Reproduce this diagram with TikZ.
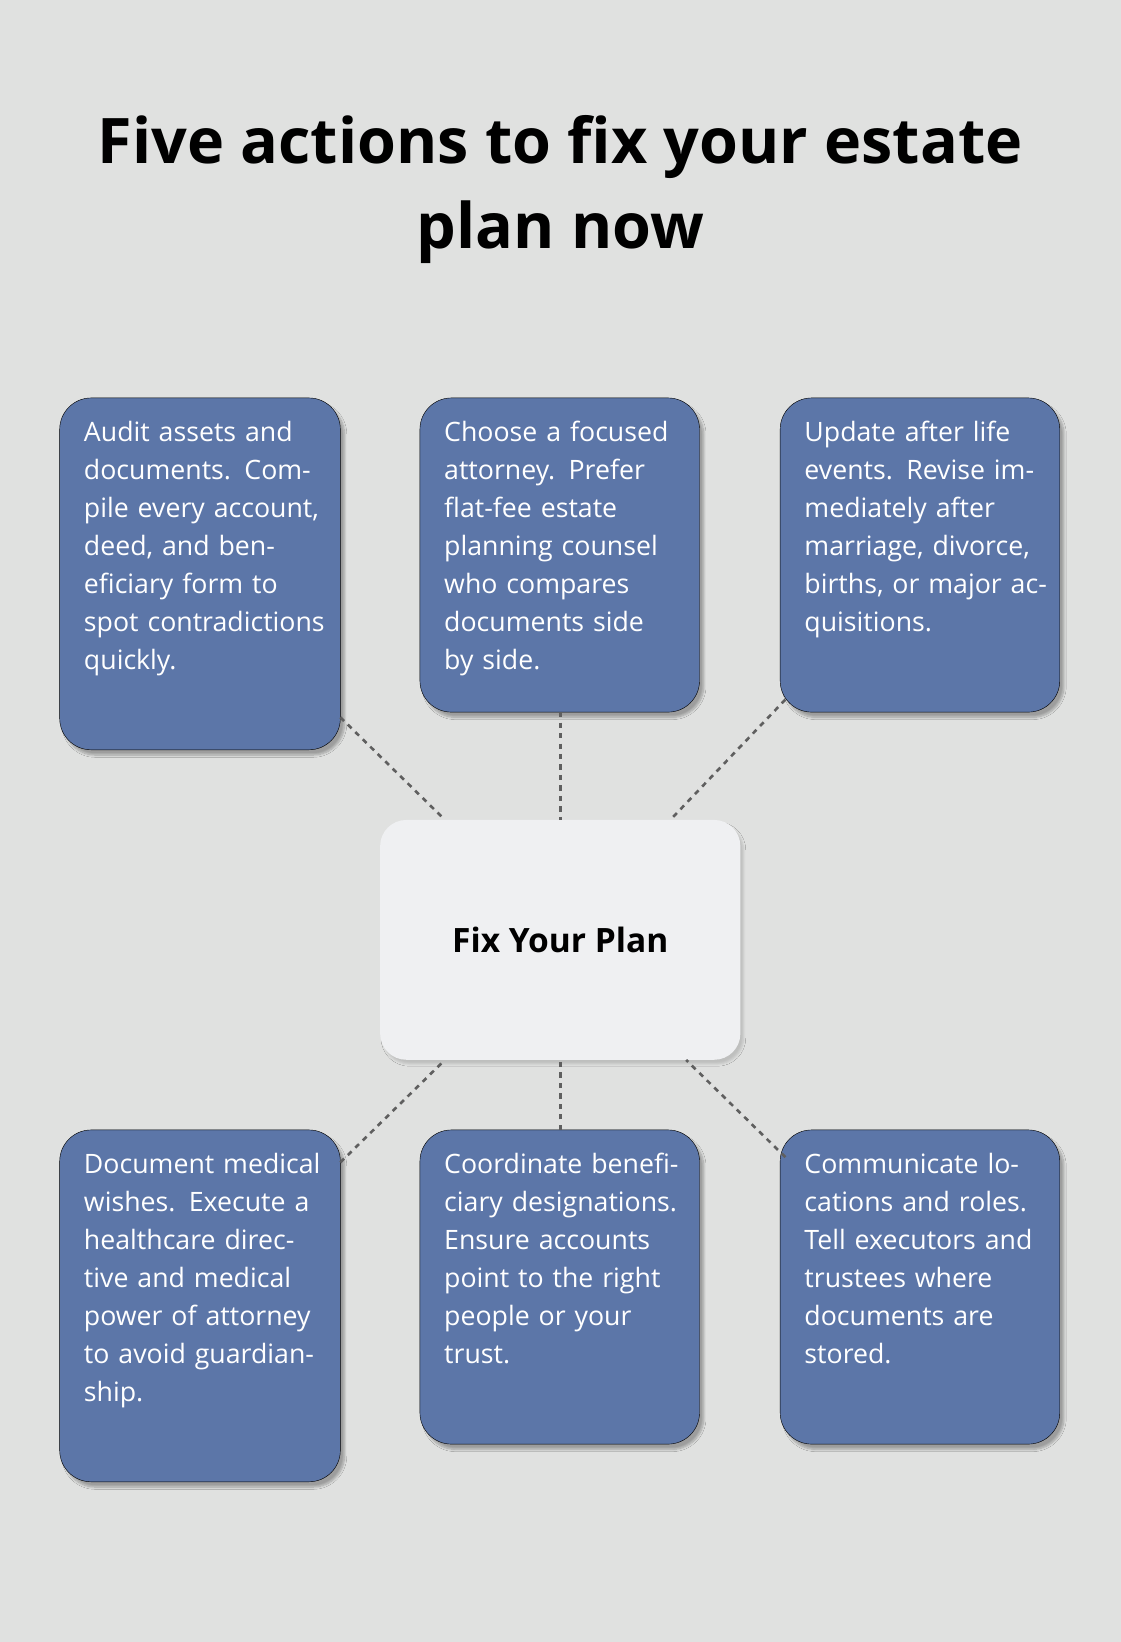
\documentclass[tikz,border=0pt]{standalone}
\usepackage{fontspec}
\setmainfont{Open Sans}
\usetikzlibrary{shadows.blur}
\definecolor{bg}{HTML}{E0E1E0}
\definecolor{boxc}{HTML}{5C76A8}
\definecolor{cen}{HTML}{EFF0F2}
\definecolor{dashc}{HTML}{5F5F5F}
\begin{document}
\begin{tikzpicture}[x=1pt,y=-1pt,
  card/.style={fill=boxc,rounded corners=30pt,blur shadow={shadow xshift=4pt,shadow yshift=-5pt,shadow blur steps=8,shadow opacity=30}},
  txt/.style={anchor=north west,text=white,align=left,text width=232pt,inner sep=0pt,font=\fontsize{25.5}{36.3}\selectfont},
  con/.style={draw=dashc,line width=2.5pt,dash pattern=on 5pt off 5pt}]
\fill[bg] (0,0) rectangle (1070,1568);
\useasboundingbox (0,0) rectangle (1070,1568);
\node[align=center,font=\fontsize{60}{82}\selectfont\bfseries] (title) at (535,181) {Five actions to fix your estate\\plan now};
\draw[card] (57,380) rectangle (325,716);
\draw[card] (401,380) rectangle (668,680);
\draw[card] (745,380) rectangle (1012,680);
\draw[card] (57,1079) rectangle (325,1415);
\draw[card] (401,1079) rectangle (668,1379);
\draw[card] (745,1079) rectangle (1012,1379);
\node[fill=cen,rounded corners=25pt,minimum width=344pt,minimum height=229pt,inner sep=0pt,font=\fontsize{32}{38}\selectfont\bfseries,blur shadow={shadow xshift=3pt,shadow yshift=-4pt,shadow opacity=15}] (c) at (535,897.5) {Fix Your Plan};
\node[txt] (t1) at (80,402) {Audit assets and documents. Compile every account, deed, and beneficiary form to spot contradictions quickly.};
\node[txt] (t2) at (424,402) {Choose a focused attorney. Prefer flat-fee estate planning counsel who compares documents side by side.};
\node[txt] (t3) at (768,402) {Update after life events. Revise immediately after marriage, divorce, births, or major acquisitions.};
\node[txt] (t4) at (80,1101) {Document medical wishes. Execute a healthcare directive and medical power of attorney to avoid guardianship.};
\node[txt] (t5) at (424,1101) {Coordinate beneficiary designations. Ensure accounts point to the right people or your trust.};
\node[txt] (t6) at (768,1101) {Communicate locations and roles. Tell executors and trustees where documents are stored.};
\coordinate (p1) at (325,685);
\coordinate (p2) at (535,680);
\coordinate (p3) at (750,668);
\coordinate (p4) at (325,1110);
\coordinate (p5) at (535,1079);
\coordinate (p6) at (750,1105);
\draw[con] (p1) -- ([xshift=62pt]c.north west);
\draw[con] (p2) -- (c.north);
\draw[con] (p3) -- ([xshift=-67pt]c.north east);
\draw[con] (p4) -- ([xshift=62pt]c.south west);
\draw[con] (p5) -- (c.south);
\draw[con] (p6) -- ([xshift=-52pt]c.south east);
\end{tikzpicture}
\end{document}
